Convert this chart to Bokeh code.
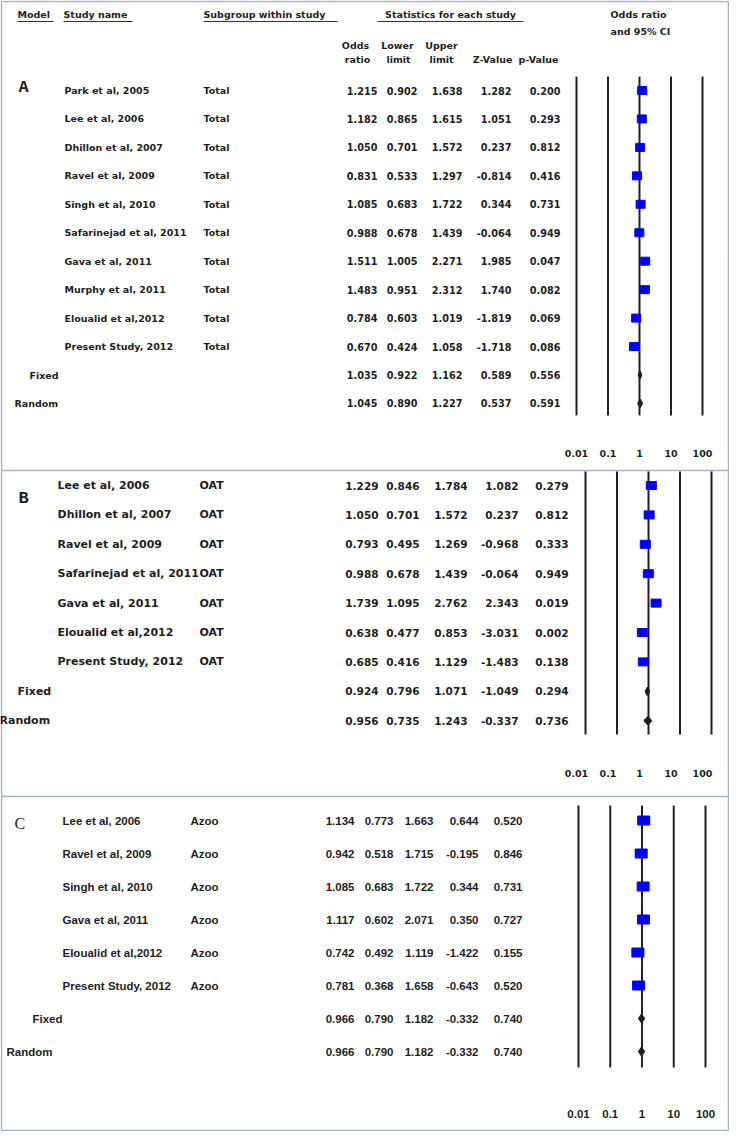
from bokeh.plotting import figure
from bokeh.models import Range1d, LogScale
from bokeh.core.properties import value
from bokeh.embed import file_html
from bokeh.resources import INLINE

# ---------------- data ----------------
ticks = [0.01, 0.1, 1, 10, 100]
tick_labels = ["0.01", "0.1", "1", "10", "100"]

names_A = ["Park et al, 2005", "Lee et al, 2006", "Dhillon et al, 2007", "Ravel et al, 2009",
           "Singh et al, 2010", "Safarinejad et al, 2011", "Gava et al, 2011", "Murphy et al, 2011",
           "Eloualid et al,2012", "Present Study, 2012"]
sub_A = "Total"
or_A = [1.215, 1.182, 1.050, 0.831, 1.085, 0.988, 1.511, 1.483, 0.784, 0.670]
lo_A = [0.902, 0.865, 0.701, 0.533, 0.683, 0.678, 1.005, 0.951, 0.603, 0.424]
hi_A = [1.638, 1.615, 1.572, 1.297, 1.722, 1.439, 2.271, 2.312, 1.019, 1.058]
z_A = [1.282, 1.051, 0.237, -0.814, 0.344, -0.064, 1.985, 1.740, -1.819, -1.718]
p_A = [0.200, 0.293, 0.812, 0.416, 0.731, 0.949, 0.047, 0.082, 0.069, 0.086]
pool_A = {"Fixed": [1.035, 0.922, 1.162, 0.589, 0.556],
          "Random": [1.045, 0.890, 1.227, 0.537, 0.591]}

names_B = ["Lee et al, 2006", "Dhillon et al, 2007", "Ravel et al, 2009", "Safarinejad et al, 2011",
           "Gava et al, 2011", "Eloualid et al,2012", "Present Study, 2012"]
sub_B = "OAT"
or_B = [1.229, 1.050, 0.793, 0.988, 1.739, 0.638, 0.685]
lo_B = [0.846, 0.701, 0.495, 0.678, 1.095, 0.477, 0.416]
hi_B = [1.784, 1.572, 1.269, 1.439, 2.762, 0.853, 1.129]
z_B = [1.082, 0.237, -0.968, -0.064, 2.343, -3.031, -1.483]
p_B = [0.279, 0.812, 0.333, 0.949, 0.019, 0.002, 0.138]
pool_B = {"Fixed": [0.924, 0.796, 1.071, -1.049, 0.294],
          "Random": [0.956, 0.735, 1.243, -0.337, 0.736]}

names_C = ["Lee et al, 2006", "Ravel et al, 2009", "Singh et al, 2010", "Gava et al, 2011",
           "Eloualid et al,2012", "Present Study, 2012"]
sub_C = "Azoo"
or_C = [1.134, 0.942, 1.085, 1.117, 0.742, 0.781]
lo_C = [0.773, 0.518, 0.683, 0.602, 0.492, 0.368]
hi_C = [1.663, 1.715, 1.722, 2.071, 1.119, 1.658]
z_C = [0.644, -0.195, 0.344, 0.350, -1.422, -0.643]
p_C = [0.520, 0.846, 0.731, 0.727, 0.155, 0.520]
pool_C = {"Fixed": [0.966, 0.790, 1.182, -0.332, 0.740],
          "Random": [0.966, 0.790, 1.182, -0.332, 0.740]}

# ---------------- figure ----------------
W, H = 729, 1131
X0, Y0 = 8, 8
p = figure(width=W, height=H, output_backend="svg", toolbar_location=None,
           x_range=Range1d(X0, X0 + W), y_range=Range1d(Y0 + H, Y0),
           x_axis_type=None, y_axis_type=None, min_border=0,
           min_border_left=0, min_border_right=0, min_border_top=0, min_border_bottom=0)
p.grid.visible = False
p.outline_line_color = None
p.background_fill_color = "white"

TXT = "#1e1e1e"
BORDER = "#a3b5cc"


def add_log_range(name, x_at_001, px_per_dec):
    lo = -2 - (x_at_001 - X0) / px_per_dec
    hi = -2 + (X0 + W - x_at_001) / px_per_dec
    p.extra_x_ranges[name] = Range1d(10 ** lo, 10 ** hi)
    p.extra_x_scales[name] = LogScale()


add_log_range("A", 584, 31.5)
add_log_range("B", 593, 31.5)
add_log_range("C", 586, 31.75)


def txt(x, y, s, size, font="DejaVu Sans", style="bold", align="left", rng="default", color=TXT):
    if not isinstance(x, list):
        x, y, s = [x], [y], [s]
    p.text(x=x, y=y, text=s, text_font=value(font), text_font_style=style,
           text_font_size=size, text_align=align, text_baseline="middle",
           text_color=color, x_range_name=rng)


def fmt(v):
    return [f"{a:.3f}" for a in v]


def panel(rng, names, sub, ors, los, his, zs, ps, pool, rows_y, name_x, sub_x, col_r,
          fixed_x, random_x, font, size, num_size, line_top, line_bot, sq_w, sq_h,
          tick_rng, tick_y, tick_font, tick_size):
    n = len(names)
    ys = rows_y[:n]
    txt([name_x] * n, ys, names, size, font)
    txt([sub_x] * n, ys, [sub] * n, size, font)
    all_or = ors + [pool["Fixed"][0], pool["Random"][0]]
    all_lo = los + [pool["Fixed"][1], pool["Random"][1]]
    all_hi = his + [pool["Fixed"][2], pool["Random"][2]]
    all_z = zs + [pool["Fixed"][3], pool["Random"][3]]
    all_p = ps + [pool["Fixed"][4], pool["Random"][4]]
    for col, vals in zip(col_r, [all_or, all_lo, all_hi, all_z, all_p]):
        txt([col] * len(vals), rows_y, fmt(vals), num_size, font, align="right")
    txt(fixed_x, rows_y[n], "Fixed", size, font)
    txt(random_x, rows_y[n + 1], "Random", size, font)
    # reference lines
    p.segment(x0=ticks, y0=[line_top] * 5, x1=ticks, y1=[line_bot] * 5,
              x_range_name=rng, line_color="#202020", line_width=2)
    # study squares
    p.rect(x=ors, y=ys, width=sq_w, height=sq_h, width_units="screen", height_units="screen",
           x_range_name=rng, fill_color="#0000ff", line_color="#0000ff")
    # pooled diamonds
    for k, key in enumerate(["Fixed", "Random"]):
        o, l, h = pool[key][0], pool[key][1], pool[key][2]
        yy = rows_y[n + k]
        p.patch(x=[l, o, h, o], y=[yy, yy - 4, yy, yy + 4], x_range_name=rng,
                fill_color="#202020", line_color="#202020", line_width=1.5)
    txt(ticks, [tick_y] * 5, tick_labels, tick_size, tick_font, align="center", rng=tick_rng)


# ---------------- frame ----------------
p.line(x=[9, 736, 736, 9, 9], y=[9, 9, 1138, 1138, 9], line_color=BORDER, line_width=1.5)
p.segment(x0=[9, 9], y0=[478, 804], x1=[736, 736], y1=[478, 804], line_color=BORDER, line_width=1.5)

# ---------------- header (panel A) ----------------
HS = "9.5px"
txt(25, 22, "Model", HS)
txt(71, 22, "Study name", HS)
txt(211, 22, "Subgroup within study", HS)
txt(458, 22, "Statistics for each study", HS, align="center")
txt(618, 22, "Odds ratio", HS)
txt(618, 39, "and 95% CI", HS)
txt([363, 405, 449], [53, 53, 53], ["Odds", "Lower", "Upper"], HS, align="center")
txt([365, 406, 449, 500, 546], [67] * 5, ["ratio", "limit", "limit", "Z-Value", "p-Value"], HS, align="center")
p.segment(x0=[25, 71, 211, 385], y0=[29] * 4, x1=[61, 140, 345, 531], y1=[29] * 4,
          line_color="#333333", line_width=1.2)

# ---------------- panels ----------------
yA = [98 + i * 28.45 for i in range(12)]
yB = [493 + i * 29.4 for i in range(9)]
yC = [828 + i * 33.0 for i in range(8)]

panel("A", names_A, sub_A, or_A, lo_A, hi_A, z_A, p_A, pool_A, yA, 72, 211,
      [385, 425, 470, 519, 568], 37, 22, "DejaVu Sans", "9.5px", "9.7px", 84, 423, 9, 8,
      "A", 461, "DejaVu Sans", "9.5px")
panel("B", names_B, sub_B, or_B, lo_B, hi_B, z_B, p_B, pool_B, yB, 65, 207,
      [386, 427, 475, 526, 576], 25, 7, "DejaVu Sans", "11px", "10.5px", 479, 742, 10, 8,
      "A", 781, "DejaVu Sans", "9.5px")
panel("C", names_C, sub_C, or_C, lo_C, hi_C, z_C, p_C, pool_C, yC, 70, 198,
      [362, 401, 441, 486, 530], 40, 14, "Liberation Sans", "11.5px", "11.5px", 813, 1075, 12, 9,
      "C", 1121, "Liberation Sans", "11.5px")

# panel letters
txt(26, 95, "A", "17px", "Liberation Mono")
txt(26, 506, "B", "17px", "Liberation Mono")
txt(22, 831, "C", "16px", "Liberation Serif", style="normal")

open("out.html", "w").write(file_html(p, INLINE))
